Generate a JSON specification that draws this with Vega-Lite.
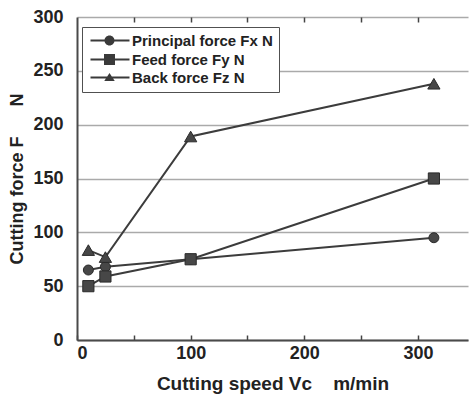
{
  "$schema": "https://vega.github.io/schema/vega-lite/v6.json",
  "width": 391,
  "height": 323,
  "autosize": "none",
  "padding": {"left": 77, "top": 17, "right": 1, "bottom": 59},
  "background": "white",
  "config": {
    "view": {"stroke": null},
    "font": "Liberation Sans",
    "axis": {"labelFont": "Liberation Sans", "titleFont": "Liberation Sans", "labelFontWeight": "bold", "titleFontWeight": "bold", "labelColor": "#222", "titleColor": "#222"}
  },
  "data": {
    "values": [
      {"speed": 10, "force": 65, "series": "Principal force Fx N"},
      {"speed": 25, "force": 68, "series": "Principal force Fx N"},
      {"speed": 100, "force": 75, "series": "Principal force Fx N"},
      {"speed": 314, "force": 95, "series": "Principal force Fx N"},
      {"speed": 10, "force": 50, "series": "Feed force Fy N"},
      {"speed": 25, "force": 59, "series": "Feed force Fy N"},
      {"speed": 100, "force": 75, "series": "Feed force Fy N"},
      {"speed": 314, "force": 150, "series": "Feed force Fy N"},
      {"speed": 10, "force": 83.5, "series": "Back force Fz N"},
      {"speed": 25, "force": 77, "series": "Back force Fz N"},
      {"speed": 100, "force": 189, "series": "Back force Fz N"},
      {"speed": 314, "force": 238, "series": "Back force Fz N"}
    ]
  },
  "resolve": {"scale": {"shape": "independent"}, "axis": {"x": "independent"}},
  "layer": [
    {
      "mark": {"type": "line", "color": "#3c3c3c", "strokeWidth": 2},
      "encoding": {
        "x": {"field": "speed", "type": "quantitative", "scale": {"domain": [0, 344], "nice": false},
          "axis": {"orient": "bottom", "title": "Cutting speed Vc\u00a0\u00a0\u00a0\u00a0m/min", "titleFontSize": 19, "titlePadding": 12,
            "values": [0, 50, 100, 150, 200, 250, 300], "labelExpr": "datum.value % 100 == 0 ? datum.label : ''",
            "labelFontSize": 18, "labelPadding": 9, "tickSize": -5, "tickColor": "#444", "tickWidth": 1.5,
            "domainColor": "#4a4a4a", "domainWidth": 2, "grid": false}},
        "y": {"field": "force", "type": "quantitative", "scale": {"domain": [0, 300], "nice": false},
          "axis": {"title": "Cutting force F\u00a0\u00a0\u00a0\u00a0\u00a0\u00a0N", "titleFontSize": 18, "titlePadding": 6,
            "values": [0, 50, 100, 150, 200, 250, 300], "labelFontSize": 18, "labelPadding": 14, "tickSize": 0,
            "domainColor": "#4a4a4a", "domainWidth": 2, "grid": true, "gridColor": "#aaaaaa", "gridWidth": 1.5}},
        "detail": {"field": "series"}
      }
    },
    {
      "mark": {"type": "point", "filled": true, "opacity": 1, "color": "#474747", "stroke": "#2a2a2a", "strokeWidth": 1},
      "encoding": {
        "x": {"field": "speed", "type": "quantitative",
          "axis": {"orient": "top", "title": null, "labels": false, "domain": false, "values": [50, 100, 150, 200, 250, 300], "tickSize": -5, "tickColor": "#444", "tickWidth": 1.5, "grid": false}},
        "y": {"field": "force", "type": "quantitative"},
        "shape": {"field": "series", "type": "nominal", "legend": null,
          "scale": {"domain": ["Principal force Fx N", "Feed force Fy N", "Back force Fz N"], "range": ["circle", "square", "triangle-up"]}},
        "size": {"field": "series", "type": "nominal", "legend": null,
          "scale": {"domain": ["Principal force Fx N", "Feed force Fy N", "Back force Fz N"], "range": [100, 150, 120]}}
      }
    },
    {
      "mark": {"type": "point", "filled": true, "opacity": 0, "size": 100, "color": "#3a3a3a"},
      "encoding": {
        "x": {"field": "speed", "type": "quantitative", "axis": null},
        "y": {"field": "force", "type": "quantitative"},
        "shape": {"field": "series", "type": "nominal",
          "scale": {"domain": ["Principal force Fx N", "Feed force Fy N", "Back force Fz N"],
            "range": [
              "M-1,-0.2H6.8V0.2H-1ZM1.8,0A1,1 0 1 1 3.8,0A1,1 0 1 1 1.8,0Z",
              "M-1,-0.2H6.8V0.2H-1ZM1.7,-1.1H3.9V1.1H1.7Z",
              "M-1,-0.2H6.8V0.2H-1ZM2.8,-0.9L3.85,0.7H1.75Z"
            ]},
          "legend": {"title": null, "orient": "none", "legendX": 5, "legendY": 10, "padding": 6,
            "labelFont": "Liberation Sans", "labelFontWeight": "bold", "labelFontSize": 15, "labelColor": "#222",
            "labelOffset": 29, "rowPadding": 2, "symbolSize": 100, "symbolOpacity": 1,
            "strokeColor": "#505050", "fillColor": "white"}
        }
      }
    }
  ]
}
